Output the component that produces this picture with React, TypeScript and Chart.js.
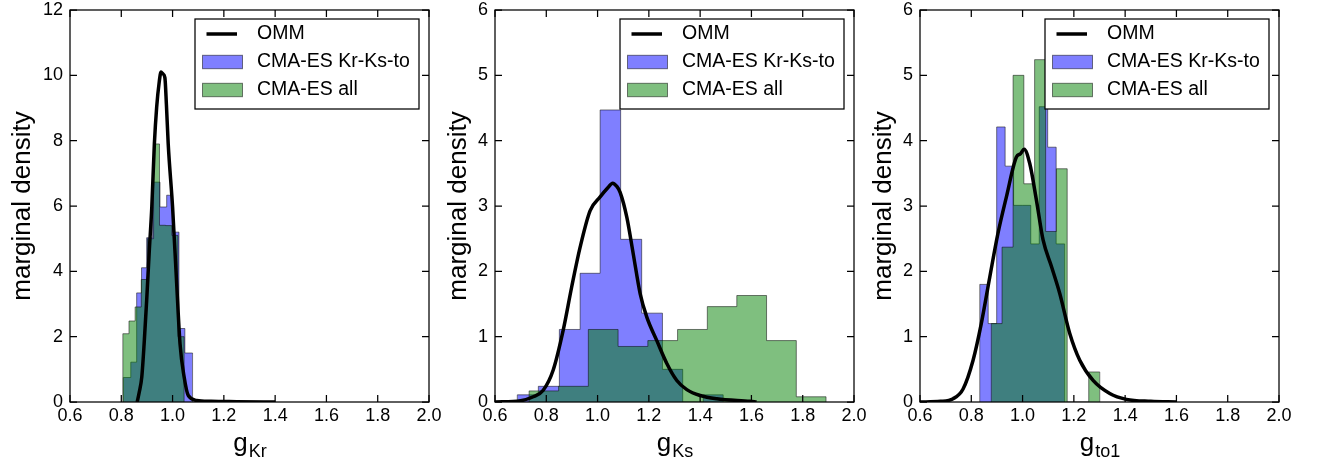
import React, { useEffect, useRef } from 'react';
import { Chart, registerables } from 'chart.js';

Chart.register(...registerables);

const FONT = '"Liberation Sans", Arial, Helvetica, sans-serif';

// axis ticks
const xTicks = [0.6, 0.8, 1.0, 1.2, 1.4, 1.6, 1.8, 2.0];
const krTicks = [0, 2, 4, 6, 8, 10, 12];
const ksTicks = [0, 1, 2, 3, 4, 5, 6];
const toTicks = [0, 1, 2, 3, 4, 5, 6];

const legendLabels = ['OMM', 'CMA-ES Kr-Ks-to', 'CMA-ES all'];

// panel 1: g_Kr
const krFitEdges = [0.808, 0.837, 0.86, 0.879, 0.899, 0.922, 0.951, 0.977, 1.0, 1.025, 1.048, 1.078];
const krFitDensity = [0.75, 1.22, 3.34, 4.11, 5.03, 6.73, 5.97, 6.33, 5.2, 2.25, 1.5];
const krAllEdges = [0.806, 0.83, 0.854, 0.878, 0.902, 0.926, 0.949, 0.973, 0.997, 1.021, 1.045];
const krAllDensity = [2.09, 2.48, 2.91, 3.75, 5.0, 7.9, 5.41, 5.4, 5.1, 2.0];
const krOmmX = [0.862, 0.87, 0.88, 0.89, 0.899, 0.909, 0.919, 0.929, 0.938, 0.948, 0.955, 0.962, 0.97, 0.976, 0.983, 1.0, 1.016, 1.029, 1.045, 1.061, 1.094, 1.15, 1.25, 1.4];
const krOmmY = [0, 0.3, 0.77, 1.9, 3.11, 4.6, 5.97, 7.9, 9.03, 9.8, 10.1, 10.05, 9.93, 9.1, 7.9, 5.97, 3.62, 1.79, 0.77, 0.2, 0.05, 0.02, 0.01, 0];

// panel 2: g_Ks
const ksFitEdges = [0.687, 0.769, 0.851, 0.932, 1.01, 1.09, 1.172, 1.253, 1.332, 1.412, 1.49];
const ksFitDensity = [0.11, 0.24, 1.11, 1.97, 4.47, 2.49, 1.36, 0.5, 0, 0.11];
const ksAllEdges = [0.733, 0.848, 0.964, 1.08, 1.196, 1.312, 1.428, 1.543, 1.659, 1.775, 1.891];
const ksAllDensity = [0.17, 0.24, 1.11, 0.85, 0.94, 1.11, 1.46, 1.63, 0.94, 0.08];
const ksOmmX = [0.6, 0.7, 0.749, 0.788, 0.827, 0.866, 0.899, 0.932, 0.971, 1.01, 1.04, 1.059, 1.075, 1.088, 1.114, 1.139, 1.166, 1.192, 1.231, 1.27, 1.309, 1.348, 1.4, 1.465, 1.595, 1.62];
const ksOmmY = [0, 0.02, 0.08, 0.18, 0.49, 1.1, 1.76, 2.37, 2.93, 3.14, 3.28, 3.35, 3.3, 3.21, 2.83, 2.27, 1.66, 1.3, 0.94, 0.59, 0.33, 0.19, 0.1, 0.05, 0.01, 0];

// panel 3: g_to1
const toFitEdges = [0.833, 0.866, 0.899, 0.932, 0.965, 0.999, 1.032, 1.065, 1.098, 1.131, 1.164];
const toFitDensity = [1.8, 1.2, 4.21, 3.61, 3.01, 3.01, 2.42, 4.52, 3.9, 2.42];
const toAllEdges = [0.878, 0.92, 0.963, 1.005, 1.047, 1.09, 1.132, 1.174, 1.216, 1.258, 1.301];
const toAllDensity = [1.2, 2.37, 5.0, 3.34, 5.24, 2.61, 3.57, 0, 0, 0.46];
const toOmmX = [0.6, 0.68, 0.729, 0.768, 0.807, 0.839, 0.872, 0.904, 0.937, 0.976, 0.992, 1.006, 1.028, 1.054, 1.08, 1.113, 1.145, 1.184, 1.223, 1.275, 1.34, 1.405, 1.5, 1.6];
const toOmmY = [0, 0.01, 0.05, 0.2, 0.64, 1.2, 1.91, 2.58, 3.14, 3.75, 3.8, 3.87, 3.65, 3.09, 2.48, 2.07, 1.66, 1.05, 0.64, 0.33, 0.13, 0.04, 0.01, 0];

const BLUE = 'rgba(0, 0, 255, 0.5)';
const GREEN = 'rgba(0, 128, 0, 0.5)';
const EDGE = 'rgba(0, 0, 0, 0.5)';

// histogram outline for a stepped line: (edge, value) pairs closed to zero at both ends
function stepPoints(edges: number[], density: number[]) {
  const pts = [{ x: edges[0], y: 0 }];
  density.forEach((d, i) => pts.push({ x: edges[i], y: d }));
  pts.push({ x: edges[edges.length - 1], y: 0 });
  return pts;
}

interface PanelProps {
  left: number;
  sub: string;
  yMax: number;
  yTicks: number[];
  titleOffset: number;
  fitEdges: number[];
  fitDensity: number[];
  allEdges: number[];
  allDensity: number[];
  ommX: number[];
  ommY: number[];
}

const Panel: React.FC<PanelProps> = (p) => {
  const canvasRef = useRef<HTMLCanvasElement | null>(null);

  useEffect(() => {
    if (!canvasRef.current) return;

    const decorations = {
      id: 'decorations',
      afterDatasetsDraw(chart: Chart) {
        const { ctx, chartArea: a, scales } = chart;
        ctx.save();

        // frame + inward ticks on all sides
        ctx.strokeStyle = '#000';
        ctx.lineWidth = 1.25;
        ctx.strokeRect(a.left, a.top, a.right - a.left, a.bottom - a.top);
        ctx.beginPath();
        scales.x.ticks.forEach(t => {
          const px = scales.x.getPixelForValue(t.value);
          ctx.moveTo(px, a.bottom);
          ctx.lineTo(px, a.bottom - 7);
          ctx.moveTo(px, a.top);
          ctx.lineTo(px, a.top + 7);
        });
        scales.y.ticks.forEach(t => {
          const py = scales.y.getPixelForValue(t.value);
          ctx.moveTo(a.left, py);
          ctx.lineTo(a.left + 7, py);
          ctx.moveTo(a.right, py);
          ctx.lineTo(a.right - 7, py);
        });
        ctx.stroke();

        // legend
        const w = 224;
        const h = 90;
        const x0 = a.right - 10 - w;
        const y0 = a.top + 9;
        ctx.fillStyle = '#fff';
        ctx.fillRect(x0, y0, w, h);
        ctx.strokeRect(x0, y0, w, h);

        const rows = [y0 + 15, y0 + 43, y0 + 71];
        ctx.lineWidth = 3.5;
        ctx.beginPath();
        ctx.moveTo(x0 + 11.5, rows[0]);
        ctx.lineTo(x0 + 42, rows[0]);
        ctx.stroke();

        ctx.lineWidth = 1;
        [BLUE, GREEN].forEach((c, i) => {
          ctx.fillStyle = c;
          ctx.strokeStyle = EDGE;
          ctx.fillRect(x0 + 7.5, rows[i + 1] - 6.7, 40, 13.4);
          ctx.strokeRect(x0 + 7.5, rows[i + 1] - 6.7, 40, 13.4);
        });

        ctx.fillStyle = '#000';
        ctx.font = `19.5px ${FONT}`;
        ctx.textAlign = 'left';
        ctx.textBaseline = 'middle';
        legendLabels.forEach((l, i) => ctx.fillText(l, x0 + 62, rows[i]));

        // y title
        ctx.save();
        ctx.translate(a.left - p.titleOffset, (a.top + a.bottom) / 2);
        ctx.rotate(-Math.PI / 2);
        ctx.font = `26px ${FONT}`;
        ctx.textAlign = 'center';
        ctx.textBaseline = 'middle';
        ctx.fillText('marginal density', 0, 0);
        ctx.restore();

        // x title: g with subscript
        ctx.font = `26px ${FONT}`;
        const gw = ctx.measureText('g').width;
        ctx.font = `18px ${FONT}`;
        const sw = ctx.measureText(p.sub).width;
        const cx = (a.left + a.right) / 2;
        const start = cx - (gw + sw) / 2;
        ctx.textBaseline = 'alphabetic';
        ctx.font = `26px ${FONT}`;
        ctx.fillText('g', start, a.bottom + 49);
        ctx.font = `18px ${FONT}`;
        ctx.fillText(p.sub, start + gw + 1, a.bottom + 55);

        ctx.restore();
      },
    };

    const chart = new Chart(canvasRef.current, {
      type: 'line',
      data: {
        datasets: [
          {
            label: 'OMM',
            data: p.ommX.map((x, i) => ({ x, y: p.ommY[i] })),
            borderColor: '#000',
            borderWidth: 3.5,
            pointRadius: 0,
            cubicInterpolationMode: 'monotone',
            fill: false,
          },
          {
            label: 'CMA-ES all',
            data: stepPoints(p.allEdges, p.allDensity),
            stepped: true,
            borderColor: EDGE,
            borderWidth: 1,
            backgroundColor: GREEN,
            pointRadius: 0,
            fill: 'origin',
          },
          {
            label: 'CMA-ES Kr-Ks-to',
            data: stepPoints(p.fitEdges, p.fitDensity),
            stepped: true,
            borderColor: EDGE,
            borderWidth: 1,
            backgroundColor: BLUE,
            pointRadius: 0,
            fill: 'origin',
          },
        ],
      },
      options: {
        responsive: false,
        animation: false,
        events: [],
        layout: { padding: { left: 0, right: 15, top: 10, bottom: 0 } },
        plugins: {
          legend: { display: false },
          tooltip: { enabled: false },
        },
        scales: {
          x: {
            type: 'linear',
            min: 0.6,
            max: 2.0,
            grid: { display: false, drawTicks: false },
            border: { display: false },
            afterBuildTicks: (axis: any) => {
              axis.ticks = xTicks.map(v => ({ value: v }));
            },
            afterFit: (axis: any) => {
              axis.height = 62;
              axis.paddingLeft = 0;
              axis.paddingRight = 0;
            },
            ticks: {
              color: '#000',
              font: { family: FONT, size: 18 },
              padding: 3,
              maxRotation: 0,
              autoSkip: false,
              callback: (v: any) => Number(v).toFixed(1),
            },
          },
          y: {
            type: 'linear',
            min: 0,
            max: p.yMax,
            grid: { display: false, drawTicks: false },
            border: { display: false },
            afterBuildTicks: (axis: any) => {
              axis.ticks = p.yTicks.map(v => ({ value: v }));
            },
            afterFit: (axis: any) => {
              axis.width = 70;
              axis.paddingTop = 0;
              axis.paddingBottom = 0;
            },
            ticks: {
              color: '#000',
              font: { family: FONT, size: 18 },
              padding: 7,
              autoSkip: false,
              callback: (v: any) => String(v),
            },
          },
        },
      },
      plugins: [decorations],
    });

    return () => chart.destroy();
  }, []);

  return (
    <canvas
      ref={canvasRef}
      width={444}
      height={464}
      style={{ position: 'absolute', left: p.left, top: 0 }}
    />
  );
};

export default function App() {
  return (
    <div style={{ position: 'absolute', left: 0, top: 0, width: 1319, height: 464, background: '#fff', overflow: 'hidden' }}>
      <Panel left={0} sub="Kr" yMax={12} yTicks={krTicks} titleOffset={47}
        fitEdges={krFitEdges} fitDensity={krFitDensity} allEdges={krAllEdges} allDensity={krAllDensity}
        ommX={krOmmX} ommY={krOmmY} />
      <Panel left={425} sub="Ks" yMax={6} yTicks={ksTicks} titleOffset={36}
        fitEdges={ksFitEdges} fitDensity={ksFitDensity} allEdges={ksAllEdges} allDensity={ksAllDensity}
        ommX={ksOmmX} ommY={ksOmmY} />
      <Panel left={850} sub="to1" yMax={6} yTicks={toTicks} titleOffset={36}
        fitEdges={toFitEdges} fitDensity={toFitDensity} allEdges={toAllEdges} allDensity={toAllDensity}
        ommX={toOmmX} ommY={toOmmY} />
    </div>
  );
}
